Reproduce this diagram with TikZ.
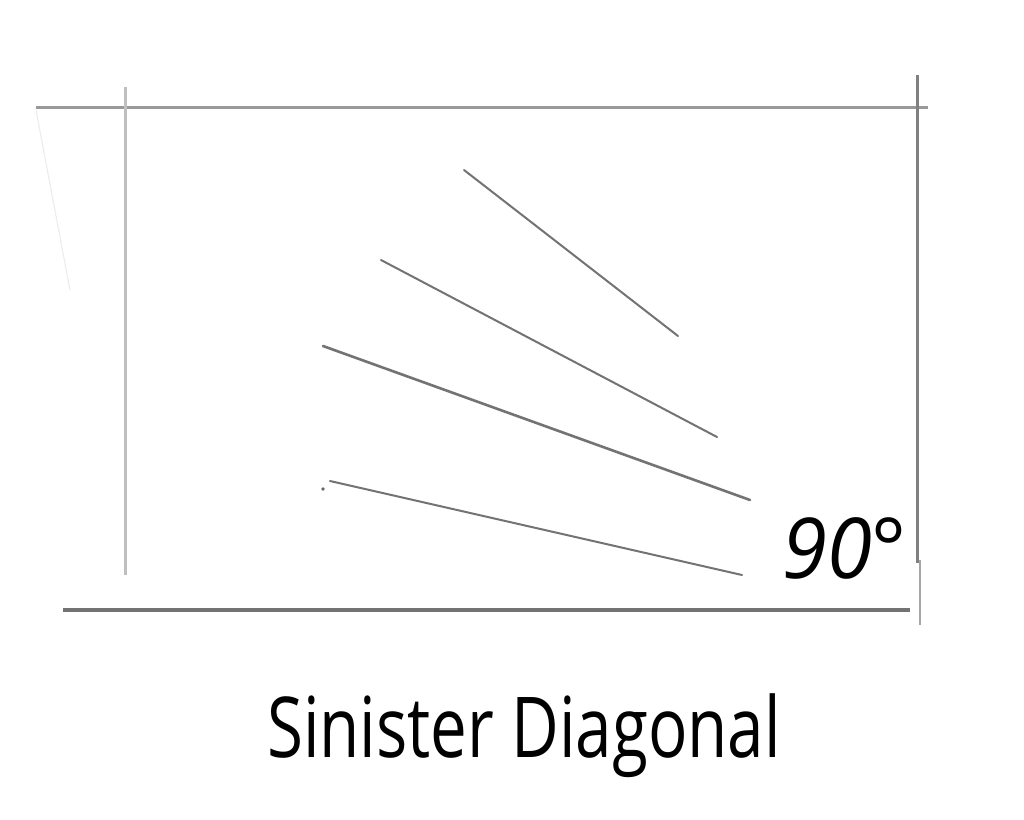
\documentclass[tikz,border=0pt]{standalone}
\usepackage{fontspec}
\setmainfont{Open Sans}
\begin{document}
\begin{tikzpicture}[x=1pt,y=-1pt,
  frame/.style={draw=black!40,line width=3pt},
  ray/.style={draw=black!55,line width=2pt,line cap=round}]
\useasboundingbox[fill=white] (0,0) rectangle (1024,819);
% frame
\coordinate (tl) at (36,107); \coordinate (tr) at (928,107);
\draw[frame] (tl) -- (tr);
\coordinate (lt) at (125,87); \coordinate (lb) at (125,575);
\draw[frame,draw=black!25] (lt) -- (lb);
\coordinate (ft) at (36,110); \coordinate (fb) at (70,290);
\draw[draw=black!8,line width=1pt] (ft) -- (fb);
\coordinate (rt) at (917,75); \coordinate (rm) at (917,563);
\coordinate (rm2) at (920,560); \coordinate (rb) at (920,625);
\draw[frame,draw=black!50] (rt) -- (rm);
\draw[frame,draw=black!35,line width=2pt] (rm2) -- (rb);
\coordinate (bl) at (63,610); \coordinate (br) at (910,610);
\draw[frame,draw=black!55,line width=3.6pt] (bl) -- (br);
% rays
\coordinate (a1) at (464,170); \coordinate (b1) at (678,336);
\coordinate (a2) at (381,260); \coordinate (b2) at (717,437);
\coordinate (a3) at (323,346); \coordinate (b3) at (750,500);
\coordinate (a4) at (330,481); \coordinate (b4) at (742,575);
\draw[ray] (a1) -- (b1);
\draw[ray] (a2) -- (b2);
\draw[ray,line width=2.6pt] (a3) -- (b3);
\draw[ray] (a4) -- (b4);
\fill[black!60] (323,489) circle (1.8pt);
% labels
\node[anchor=base west,inner sep=0pt,font=\fontsize{84}{90}\selectfont\itshape,xscale=0.97] (deg) at (782,578) {90°};
\node[anchor=base,inner sep=0pt,font=\fontsize{84}{90}\selectfont,xscale=0.78] (title) at (524,757) {Sinister Diagonal};
\end{tikzpicture}
\end{document}
